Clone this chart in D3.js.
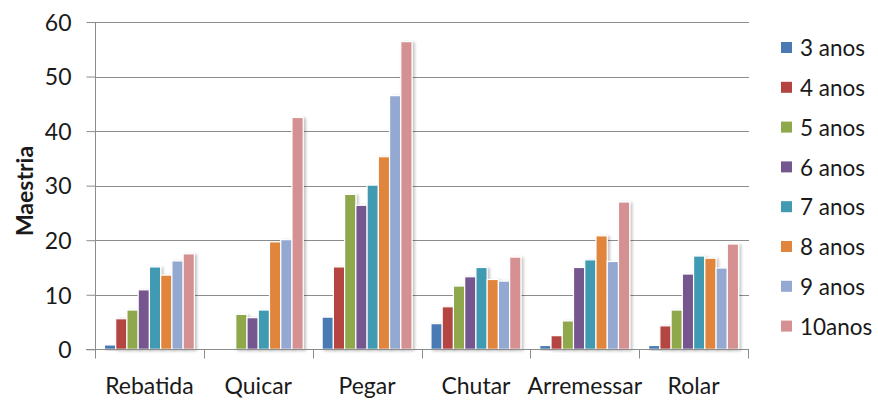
<!DOCTYPE html>
<html><head><meta charset="utf-8">
<script src="https://cdn.jsdelivr.net/npm/d3@7"></script>
<style>body{margin:0;background:#fff}svg{display:block}text{font-family:Lato,"Open Sans",sans-serif;fill:#1a1a1a}</style>
</head><body><svg id="c" width="878" height="401"></svg>
<script>
const categories = ["Rebatida","Quicar","Pegar","Chutar","Arremessar","Rolar"];
const seriesNames = ["3 anos","4 anos","5 anos","6 anos","7 anos","8 anos","9 anos","10anos"];
const s3  = [0.8, 0,    5.9,  4.7,  0.7,  0.7];
const s4  = [5.6, 0,    15.1, 7.8,  2.5,  4.3];
const s5  = [7.2, 6.4,  28.4, 11.6, 5.2,  7.2];
const s6  = [10.9,5.8,  26.4, 13.3, 15.0, 13.8];
const s7  = [15.1,7.2,  30.1, 15.0, 16.4, 17.1];
const s8  = [13.6,19.7, 35.3, 12.8, 20.8, 16.7];
const s9  = [16.2,20.1, 46.5, 12.5, 16.1, 14.9];
const s10 = [17.5,42.5, 56.4, 16.9, 27.0, 19.3];
const seriesValues = [s3,s4,s5,s6,s7,s8,s9,s10];
const yTicks = [0,10,20,30,40,50,60];
const colors = ["#4a7ab4","#b4443f","#8ea84c","#74578f","#3f9ab2","#e0853b","#93a9d2","#d59092"];

const svg = d3.select("#c");
const L=95, R=748, T=22, B=349.3;
const y = d3.scaleLinear().domain([0,60]).range([B,T]);
const x0 = d3.scaleBand().domain(categories).range([L,R]).paddingInner(0).paddingOuter(0);
const x1 = d3.scaleBand().domain(seriesNames).range([0,x0.bandwidth()]).paddingInner(0).paddingOuter(0.84);

const defs = svg.append("defs");
const f = defs.append("filter").attr("id","sh").attr("x","-30%").attr("y","-10%").attr("width","180%").attr("height","130%");
f.append("feGaussianBlur").attr("in","SourceAlpha").attr("stdDeviation",1.6).attr("result","b");
f.append("feOffset").attr("in","b").attr("dx",2).attr("dy",1).attr("result","o");
f.append("feComponentTransfer").attr("in","o").attr("result","o2").append("feFuncA").attr("type","linear").attr("slope",0.25);
const m = f.append("feMerge"); m.append("feMergeNode").attr("in","o2"); m.append("feMergeNode").attr("in","SourceGraphic");

// gridlines
svg.append("g").selectAll("line").data(yTicks.filter(t=>t>0)).join("line")
  .attr("x1",L).attr("x2",R+1).attr("y1",d=>Math.round(y(d))+0.5).attr("y2",d=>Math.round(y(d))+0.5)
  .attr("stroke","#8c8c8c").attr("stroke-width",1);

// bars
const g = svg.append("g");
categories.forEach((c,ci)=>{
  seriesNames.forEach((s,si)=>{
    const v = seriesValues[si][ci];
    if(!v) return;
    g.append("rect").attr("x",x0(c)+x1(s)).attr("y",y(v)).attr("width",x1.bandwidth()).attr("height",B-y(v))
     .attr("fill",colors[si]).attr("stroke","#fff").attr("stroke-width",1.2).attr("filter","url(#sh)");
  });
});

// y axis
const ya = svg.append("g").attr("transform",`translate(${L+0.5},0)`)
  .call(d3.axisLeft(y).tickValues(yTicks).tickSize(9).tickPadding(15));
ya.select(".domain").attr("stroke","#8c8c8c").attr("d",`M0,${T}V${B+0.5}`);
ya.selectAll(".tick line").attr("stroke","#8c8c8c");
ya.selectAll(".tick text").attr("font-size",23).attr("font-family","Lato").attr("fill","#222").attr("dy","0.36em");

// x axis
const xa = svg.append("g").attr("transform",`translate(0,${Math.round(B)+0.5})`);
xa.append("line").attr("x1",L-9).attr("x2",R+1).attr("stroke","#8c8c8c");
xa.selectAll(".t").data(d3.range(categories.length+1)).join("line")
  .attr("x1",i=>Math.round(L+i*x0.bandwidth())+0.5).attr("x2",i=>Math.round(L+i*x0.bandwidth())+0.5)
  .attr("y1",0).attr("y2",9).attr("stroke","#8c8c8c");
xa.selectAll("text").data(categories).join("text")
  .attr("x",d=>x0(d)+x0.bandwidth()/2).attr("y",44.5).attr("text-anchor","middle")
  .attr("font-size",23).text(d=>d);

// y title
svg.append("text").attr("transform","translate(33,191) rotate(-90)").attr("text-anchor","middle")
  .attr("font-size",23).attr("font-weight","bold").text("Maestria");

// legend
const lg = svg.append("g");
seriesNames.forEach((s,i)=>{
  const cy = 48 + i*39.8;
  lg.append("rect").attr("x",781).attr("y",cy-6).attr("width",11).attr("height",11).attr("fill",colors[i]);
  lg.append("text").attr("x",800).attr("y",cy).attr("dy","0.36em").attr("font-size",22.5).text(s);
});
</script></body></html>
